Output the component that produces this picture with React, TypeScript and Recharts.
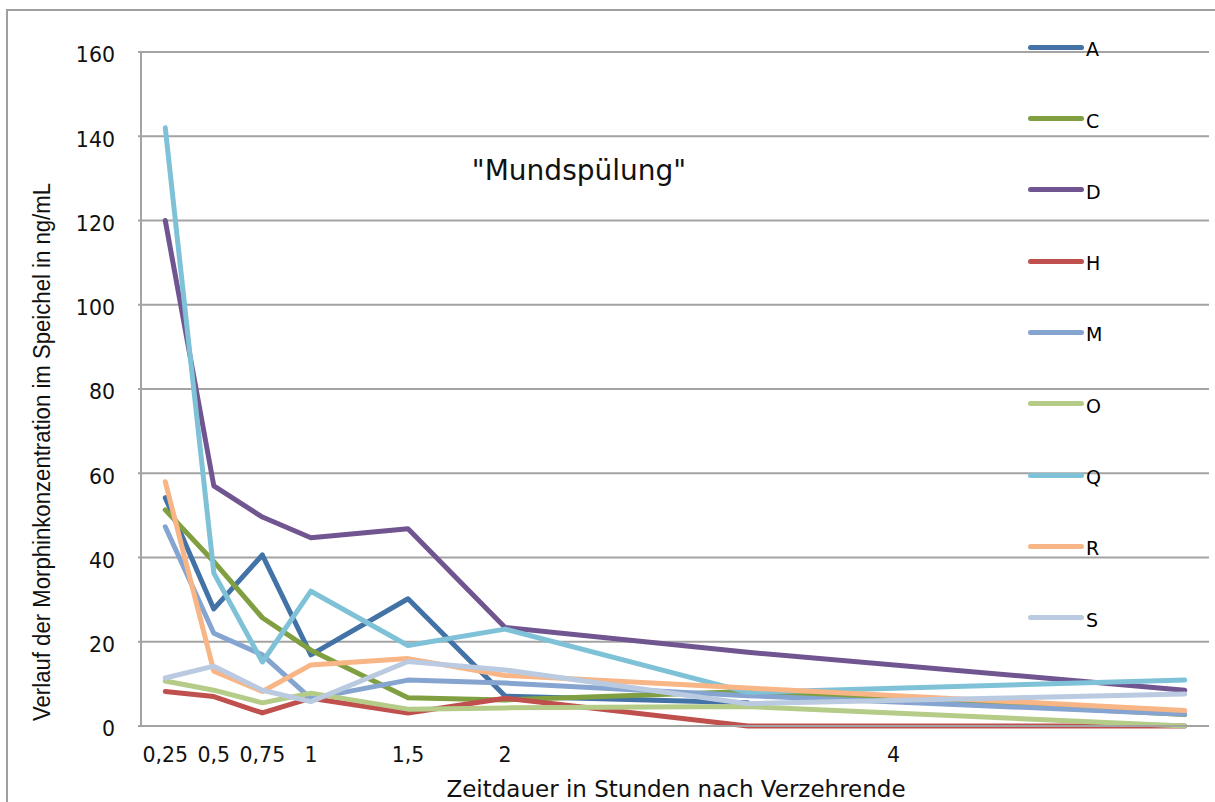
import React from 'react';
import { LineChart, Line, XAxis, YAxis, CartesianGrid, Legend } from 'recharts';

// Stunden nach Verzehrende
const hours = [0.25, 0.5, 0.75, 1, 1.5, 2, 3.25, 5.5];
const xTicks = [0.25, 0.5, 0.75, 1, 1.5, 2, 4];
const yTicks = [0, 20, 40, 60, 80, 100, 120, 140, 160];

// Morphin im Speichel, ng/mL
const seriesA = [54.2, 27.8, 40.6, 16.9, 30.2, 7.1, 5.5, null];
const seriesC = [51.3, 39, 25.7, 18, 6.7, 6.2, 8.2, 2.7];
const seriesD = [120, 57, 49.6, 44.7, 46.8, 23.4, 17.5, 8.5];
const seriesH = [8.2, 7, 3.1, 6.6, 3.1, 6.6, 0, 0];
const seriesM = [47.3, 22, 16.9, 6.5, 10.9, 10.2, 7.2, 2.8];
const seriesO = [10.7, 8.5, 5.5, 7.8, 4, 4.3, 4.6, 0];
const seriesQ = [142, 36.3, 15.2, 32, 19.1, 23, 8, 10.9];
const seriesR = [58, 13, 8.2, 14.5, 16, 12, 9, 3.7];
const seriesS = [11.4, 14.2, 8.5, 5.8, 15.3, 13.3, 5.3, 7.6];

const series = [
  { key: 'A', values: seriesA, color: '#4372a6' },
  { key: 'C', values: seriesC, color: '#7f9f40' },
  { key: 'D', values: seriesD, color: '#705590' },
  { key: 'H', values: seriesH, color: '#c0504d' },
  { key: 'M', values: seriesM, color: '#86a4d0' },
  { key: 'O', values: seriesO, color: '#b4cc88' },
  { key: 'Q', values: seriesQ, color: '#7fc2d8' },
  { key: 'R', values: seriesR, color: '#f8b585' },
  { key: 'S', values: seriesS, color: '#bacae0' },
];

const data = hours.map((h, i) => {
  const row: Record<string, number | null> = { h };
  series.forEach((s) => {
    row[s.key] = s.values[i];
  });
  return row;
});

const FONT = '"DejaVu Sans", Verdana, sans-serif';
const GRID = '#a3a3a3';

const renderLegend = (props: any) => {
  const { payload } = props;
  return (
    <div>
      {payload.map((entry: any) => (
        <div key={entry.value} style={{ height: 71.3, display: 'flex', alignItems: 'center' }}>
          <span
            style={{
              display: 'inline-block',
              width: 56,
              height: 5,
              borderRadius: 3,
              background: entry.color,
              marginRight: 2,
            }}
          />
          <span style={{ fontFamily: FONT, fontSize: 19, color: '#000', position: 'relative', top: 2 }}>
            {entry.value}
          </span>
        </div>
      ))}
    </div>
  );
};

export default function App() {
  return (
    <div
      style={{
        position: 'absolute',
        left: 0,
        top: 0,
        width: 1215,
        height: 802,
        overflow: 'hidden',
        background: '#fff',
      }}
    >
      <div
        style={{
          position: 'absolute',
          left: 6,
          top: 9,
          width: 1300,
          height: 900,
          borderLeft: '2px solid #a0a0a0',
          borderTop: '2px solid #a0a0a0',
        }}
      />
      <LineChart width={1215} height={802} data={data} margin={{ top: 52, right: 6, bottom: 0, left: 0 }}>
        <CartesianGrid vertical={false} stroke={GRID} strokeWidth={2} />
        <XAxis
          dataKey="h"
          type="number"
          domain={[0.125, 5.625]}
          ticks={xTicks}
          height={76}
          tickLine={false}
          tickSize={0}
          tickMargin={21}
          axisLine={{ stroke: GRID, strokeWidth: 2 }}
          tickFormatter={(v: number) => String(v).replace('.', ',')}
          tick={{ fontFamily: FONT, fontSize: 20.5, fill: '#111' }}
          allowDataOverflow
        />
        <YAxis
          domain={[0, 160]}
          ticks={yTicks}
          width={141}
          tickSize={3}
          tickMargin={23}
          tickLine={{ stroke: GRID, strokeWidth: 2 }}
          axisLine={{ stroke: GRID, strokeWidth: 2 }}
          tick={{ fontFamily: FONT, fontSize: 20.5, fill: '#111', dy: 3 }}
        />
        <Legend
          layout="vertical"
          align="center"
          verticalAlign="middle"
          content={renderLegend}
          wrapperStyle={{ position: 'absolute', left: 1028, top: 11.6, width: 120 }}
        />
        {series.map((s) => (
          <Line
            key={s.key}
            dataKey={s.key}
            name={s.key}
            type="linear"
            stroke={s.color}
            strokeWidth={5}
            strokeLinecap="round"
            strokeLinejoin="round"
            dot={false}
            activeDot={false}
            isAnimationActive={false}
          />
        ))}
      </LineChart>
      <svg
        width={1215}
        height={802}
        style={{ position: 'absolute', left: 0, top: 0, pointerEvents: 'none' }}
      >
        <text
          transform="translate(50, 452) rotate(-90)"
          textAnchor="middle"
          textLength={538}
          lengthAdjust="spacingAndGlyphs"
          fontFamily='"Liberation Sans Narrow", "Liberation Sans", Arial, sans-serif'
          fontSize={23}
          fill="#111"
        >
          Verlauf der Morphinkonzentration im Speichel in ng/mL
        </text>
        <text x={676} y={797} textAnchor="middle" fontFamily={FONT} fontSize={23} fill="#111">
          Zeitdauer in Stunden nach Verzehrende
        </text>
        <text x={579} y={180} textAnchor="middle" fontFamily={FONT} fontSize={28} fill="#111">
          "Mundspülung"
        </text>
      </svg>
    </div>
  );
}
